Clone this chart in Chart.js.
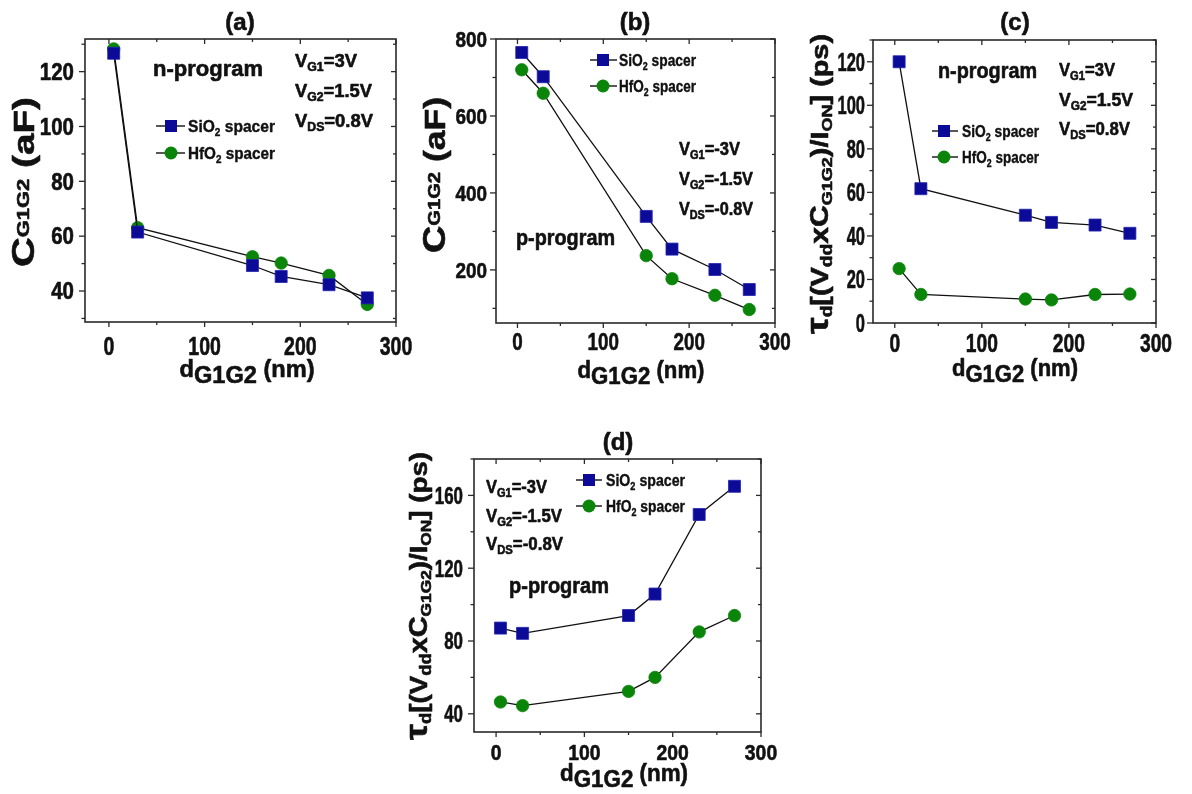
<!DOCTYPE html>
<html>
<head>
<meta charset="utf-8">
<script src="https://cdn.jsdelivr.net/npm/chart.js@4.4.0/dist/chart.umd.min.js"></script>
<style>
  body { margin: 0; background: #fff; width: 1192px; height: 794px; position: relative; overflow: hidden; }
  canvas { position: absolute; }
</style>
</head>
<body>
<canvas id="ca"></canvas>
<canvas id="cb"></canvas>
<canvas id="cc"></canvas>
<canvas id="cd"></canvas>
<script>
// spacing between the two gates, nm
const gap = [5, 30, 150, 180, 230, 270];

// (a) C_G1G2, n-program (aF)
const capNSiO2 = [126.7, 61.5, 49.3, 45.3, 42.3, 37.5];
const capNHfO2 = [128.3, 63.1, 52.5, 50.2, 45.7, 35.1];
// (b) C_G1G2, p-program (aF)
const capPSiO2 = [765, 702, 339, 254, 201, 149];
const capPHfO2 = [720, 659, 237, 177, 134, 97];
// (c) delay, n-program (ps)
const delayNSiO2 = [120, 61.7, 49.5, 46.2, 45, 41.2];
const delayNHfO2 = [25, 13.1, 11, 10.6, 13.1, 13.3];
// (d) delay, p-program (ps)
const delayPSiO2 = [87.1, 84.2, 94, 105.8, 149.5, 165];
const delayPHfO2 = [46.5, 44.5, 52.3, 60, 85, 94];

const xTicks = [0, 100, 200, 300];
const yTicksA = [40, 60, 80, 100, 120];
const yTicksB = [200, 400, 600, 800];
const yTicksC = [0, 20, 40, 60, 80, 100, 120];
const yTicksD = [40, 80, 120, 160];

const BLUE = '#0b0b98';
const GREEN = '#0a850a';
const INK = '#111';
const FAM = '"Liberation Sans", Arial, sans-serif';
const fnt = sz => 'bold ' + sz + 'px ' + FAM;

// rich text: parts = [text, size, dy]; o.rot, o.len (target length) or o.sx, o.align
function drawRich(ctx, parts, x, y, o) {
  o = o || {};
  ctx.save();
  ctx.translate(x, y);
  if (o.rot) ctx.rotate(o.rot);
  let w = 0;
  parts.forEach(p => { ctx.font = fnt(p[1]); w += ctx.measureText(p[0]).width; });
  const sx = o.len ? o.len / w : (o.sx || 1);
  ctx.scale(sx, 1);
  let cx = o.align === 'left' ? 0 : (o.align === 'right' ? -w : -w / 2);
  ctx.fillStyle = INK;
  ctx.strokeStyle = INK;
  ctx.lineWidth = o.stroke === undefined ? 0.6 : o.stroke;
  ctx.lineJoin = 'round';
  ctx.textAlign = 'left';
  ctx.textBaseline = 'alphabetic';
  parts.forEach(p => {
    ctx.font = fnt(p[1]);
    ctx.fillText(p[0], cx, p[2] || 0);
    if (ctx.lineWidth > 0) ctx.strokeText(p[0], cx, p[2] || 0);
    cx += ctx.measureText(p[0]).width;
  });
  ctx.restore();
}

function marker(ctx, style, x, y) {
  ctx.save();
  if (style === 'rect') {
    ctx.fillStyle = BLUE;
    ctx.fillRect(x - 6, y - 6, 12, 12);
  } else {
    ctx.fillStyle = GREEN;
    ctx.beginPath();
    ctx.arc(x, y, 6.5, 0, Math.PI * 2);
    ctx.fill();
  }
  ctx.restore();
}

const sioLabel = [['SiO', 17, 0], ['2', 11, 4], [' spacer', 17, 0]];
const hfoLabel = [['HfO', 17, 0], ['2', 11, 4], [' spacer', 17, 0]];
const capTitle = [['C', 32, 0], ['G1G2', 17, -5], [' (aF)', 30, 0]];
const tauTitle = [['τ', 31, 0], ['d', 16, 4], ['[(V', 24, 0], ['dd', 16, 4], ['x', 25, 0], ['C', 25, 0],
                  ['G1G2', 15, 4], [')/I', 24, 0], ['ON', 15, 4], ['] (ps)', 24, 0]];
const dTitle = [['d', 24, 0], ['G1G2', 24, 6], [' (nm)', 24, 0]];
const vText = (sub, rest) => [['V', 18, 0], [sub, 12, 4], [rest, 18, 0]];

const panels = [
  {
    id: 'ca', box: [0, 0, 432, 400], area: [85, 39, 396, 322],
    yMin: 28.7, yMax: 131.9, yTicks: yTicksA, series: [capNSiO2, capNHfO2],
    yLab: [23, 0.89, 11], xLab: [25, 0.78, 33],
    title: ['(a)', 240, 30], xTitle: [247, 377, 135], yTitle: [capTitle, 34, 182, 170],
    notes: [[[['n-program', 22, 0]], 153, 76, 110], [vText('G1', '=3V'), 295, 67, 62], [vText('G2', '=1.5V'), 295, 97, 77], [vText('DS', '=0.8V'), 295, 127, 78]],
    legend: [156, 185, 171, 188, 126, 153, 87]
  },
  {
    id: 'cb', box: [400, 0, 400, 400], area: [496, 39, 775, 323],
    yMin: 62, yMax: 800, yTicks: yTicksB, series: [capPSiO2, capPHfO2],
    yLab: [22, 0.86, 9], xLab: [23.5, 0.8, 27],
    title: ['(b)', 635, 30], xTitle: [641, 378, 127], yTitle: [capTitle, 445, 175, 156],
    notes: [[[['p-program', 22, 0]], 516, 245, 99], [vText('G1', '=-3V'), 679, 155, 61], [vText('G2', '=-1.5V'), 679, 185, 74], [vText('DS', '=-0.8V'), 679, 215, 74]],
    legend: [590, 617, 603, 619, 60, 86, 77]
  },
  {
    id: 'cc', box: [790, 0, 402, 400], area: [873, 40, 1156, 323],
    yMin: 0, yMax: 130, yTicks: yTicksC, series: [delayNSiO2, delayNHfO2],
    yLab: [25, 0.66, 8], xLab: [25, 0.77, 29],
    title: ['(c)', 1015, 30], xTitle: [1015, 376, 126], yTitle: [tauTitle, 828, 184, 300],
    notes: [[[['n-program', 22, 0]], 938, 78, 99], [vText('G1', '=3V'), 1059, 76, 56], [vText('G2', '=1.5V'), 1059, 106, 74], [vText('DS', '=0.8V'), 1059, 135, 71]],
    legend: [932, 958, 944, 962, 131, 157, 77]
  },
  {
    id: 'cd', box: [380, 420, 420, 374], area: [474, 459, 761, 732],
    yMin: 30, yMax: 180, yTicks: yTicksD, series: [delayPSiO2, delayPHfO2],
    yLab: [23.5, 0.72, 11], xLab: [22, 0.88, 28],
    title: ['(d)', 618, 450], xTitle: [624, 781, 128], yTitle: [tauTitle, 427, 596, 288],
    notes: [[[['p-program', 22, 0]], 509, 593, 100], [vText('G1', '=-3V'), 486, 493, 61], [vText('G2', '=-1.5V'), 486, 522, 76], [vText('DS', '=-0.8V'), 486, 550, 77]],
    legend: [576, 602, 589, 606, 480, 506, 79]
  }
];

function minorOf(ticks, lo, hi) {
  const step = ticks[1] - ticks[0];
  const out = [];
  for (let v = ticks[0] - step / 2; v <= hi; v += step) if (v >= lo) out.push(v);
  return out;
}

function decor(p) {
  const ox = p.box[0], oy = p.box[1];
  return {
    id: 'decor',
    afterDraw(chart) {
      const ctx = chart.ctx, a = chart.chartArea;
      const xs = chart.scales.x, ys = chart.scales.y;
      ctx.save();
      ctx.strokeStyle = '#2a2a2a';
      ctx.lineWidth = 1.6;
      ctx.strokeRect(a.left, a.top, a.right - a.left, a.bottom - a.top);
      ctx.lineWidth = 1.3;
      const tick = (x1, y1, x2, y2) => { ctx.beginPath(); ctx.moveTo(x1, y1); ctx.lineTo(x2, y2); ctx.stroke(); };
      xTicks.forEach(v => { const px = xs.getPixelForValue(v); tick(px, a.bottom, px, a.bottom + 5); tick(px, a.top, px, a.top + 5); });
      minorOf(xTicks, -25, 300).forEach(v => { const px = xs.getPixelForValue(v); tick(px, a.bottom, px, a.bottom + 3); tick(px, a.top, px, a.top + 3); });
      p.yTicks.forEach(v => { const py = ys.getPixelForValue(v); tick(a.left - 6, py, a.left, py); tick(a.right - 5, py, a.right, py); });
      minorOf(p.yTicks, p.yMin, p.yMax).forEach(v => { const py = ys.getPixelForValue(v); tick(a.left - 3.5, py, a.left, py); tick(a.right - 3, py, a.right, py); });
      ctx.restore();

      // tick labels, placed through the scales
      const yl = p.yLab, xl = p.xLab;
      p.yTicks.forEach(v => {
        const py = ys.getPixelForValue(v);
        drawRich(ctx, [[String(v), yl[0], 0]], a.left - yl[2], py + yl[0] * 0.36, { align: 'right', sx: yl[1] });
      });
      xTicks.forEach(v => {
        const px = xs.getPixelForValue(v);
        drawRich(ctx, [[String(v), xl[0], 0]], px, a.bottom + xl[2], { sx: xl[1] });
      });

      // titles
      drawRich(ctx, [[p.title[0], 24, 0]], p.title[1] - ox, p.title[2] - oy);
      drawRich(ctx, dTitle, p.xTitle[0] - ox, p.xTitle[1] - oy, { len: p.xTitle[2] });
      const yt = p.yTitle;
      drawRich(ctx, yt[0], yt[1] - ox, yt[2] - oy, { rot: -Math.PI / 2, len: yt[3] });

      // notes
      p.notes.forEach(n => drawRich(ctx, n[0], n[1] - ox, n[2] - oy, { align: 'left', len: n[3] }));

      // legend
      const L = p.legend;
      [[sioLabel, 'rect', L[4]], [hfoLabel, 'circle', L[5]]].forEach(r => {
        const y = r[2] - oy;
        ctx.save();
        ctx.strokeStyle = INK; ctx.lineWidth = 1.4;
        ctx.beginPath(); ctx.moveTo(L[0] - ox, y); ctx.lineTo(L[1] - ox, y); ctx.stroke();
        ctx.restore();
        marker(ctx, r[1], L[2] - ox, y);
        drawRich(ctx, r[0], L[3] - ox, y + 6, { align: 'left', len: L[6], stroke: 0.4 });
      });
    }
  };
}

panels.forEach(p => {
  const cv = document.getElementById(p.id);
  cv.width = p.box[2]; cv.height = p.box[3];
  cv.style.left = p.box[0] + 'px'; cv.style.top = p.box[1] + 'px';
  const yW = p.area[0] - p.box[0];
  const xH = p.box[1] + p.box[3] - p.area[3];
  new Chart(cv, {
    type: 'line',
    data: {
      datasets: [
        {
          label: 'SiO2 spacer',
          data: gap.map((x, i) => ({ x: x, y: p.series[0][i] })),
          borderColor: INK, borderWidth: 1.3, tension: 0, clip: false,
          pointStyle: 'rect', pointRadius: 8.5, pointBackgroundColor: BLUE, pointBorderColor: '#2424b0', pointBorderWidth: 0.8
        },
        {
          label: 'HfO2 spacer',
          data: gap.map((x, i) => ({ x: x, y: p.series[1][i] })),
          borderColor: INK, borderWidth: 1.3, tension: 0, clip: false,
          pointStyle: 'circle', pointRadius: 6.2, pointBackgroundColor: GREEN, pointBorderColor: GREEN, pointBorderWidth: 0.8
        }
      ]
    },
    options: {
      responsive: false,
      animation: false,
      events: [],
      layout: { padding: { left: 0, top: p.area[1] - p.box[1], right: p.box[0] + p.box[2] - p.area[2], bottom: 0 } },
      plugins: { legend: { display: false }, tooltip: { enabled: false } },
      scales: {
        x: {
          type: 'linear', min: -25, max: 300,
          grid: { display: false, drawTicks: false }, border: { display: false },
          afterBuildTicks: s => { s.ticks = xTicks.map(v => ({ value: v })); },
          afterFit: s => { s.height = xH; },
          ticks: { display: false }
        },
        y: {
          type: 'linear', min: p.yMin, max: p.yMax,
          grid: { display: false, drawTicks: false }, border: { display: false },
          afterBuildTicks: s => { s.ticks = p.yTicks.map(v => ({ value: v })); },
          afterFit: s => { s.width = yW; },
          ticks: { display: false }
        }
      }
    },
    plugins: [decor(p)]
  });
});
</script>
</body>
</html>
